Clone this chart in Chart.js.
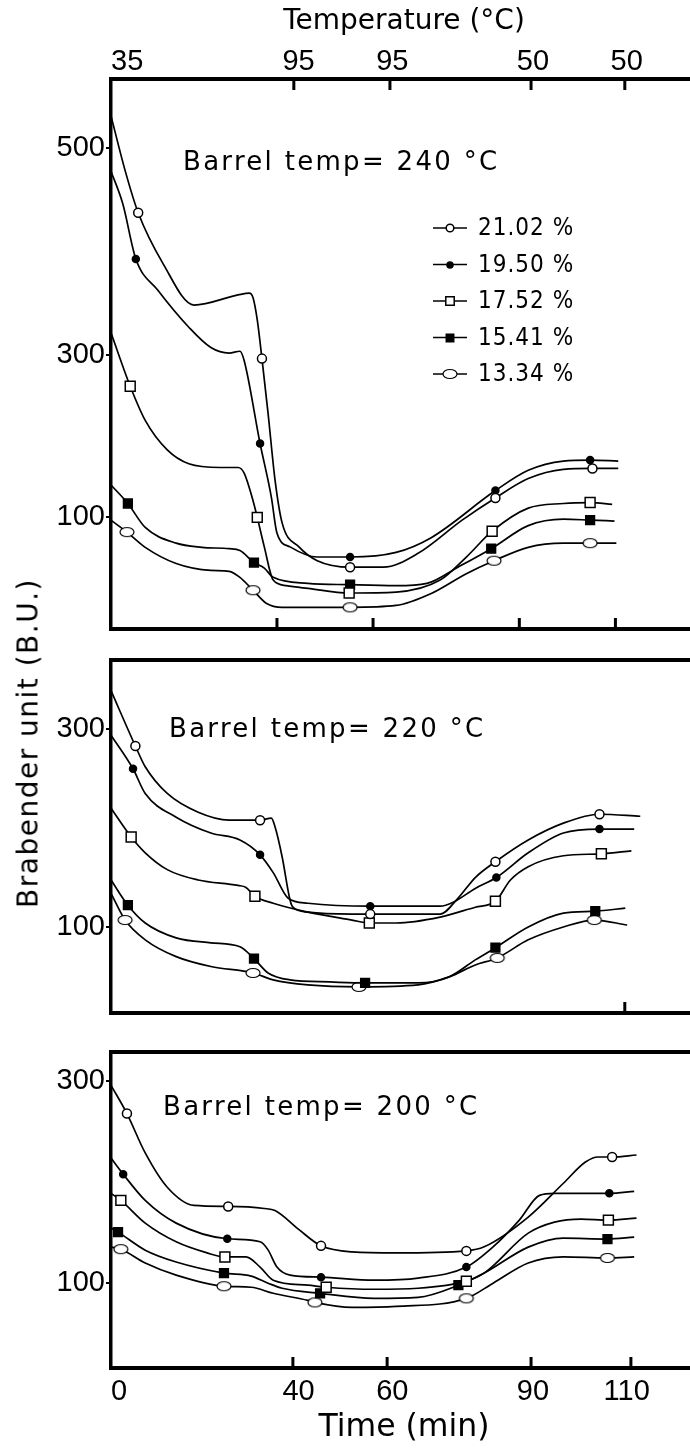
<!DOCTYPE html>
<html>
<head>
<meta charset="utf-8">
<script src="https://cdn.jsdelivr.net/npm/chart.js@4.4.1/dist/chart.umd.min.js"></script>
<style>
  html, body { margin: 0; padding: 0; background: #fff; width: 690px; height: 1452px; overflow: hidden; }
  .panel { position: absolute; left: 0; width: 700px; }
  #ytitle {
    position: absolute; left: 28px; top: 743px;
    transform: translate(-50%, -50%) rotate(-90deg);
    font: 28px "DejaVu Sans"; letter-spacing: 1.5px; white-space: nowrap; color: #000;
  }
</style>
</head>
<body>
<div class="panel" style="top:0;height:640px"><canvas id="c240" width="700" height="640"></canvas></div>
<div class="panel" style="top:640px;height:385px"><canvas id="c220" width="700" height="385"></canvas></div>
<div class="panel" style="top:1030px;height:422px"><canvas id="c200" width="700" height="422"></canvas></div>
<div id="ytitle">Brabender unit (B.U.)</div>

<script>
// moisture content of each curve
const seriesLabels = ["21.02 %", "19.50 %", "17.52 %", "15.41 %", "13.34 %"];

// axis labels
const timeTicks = [0, 40, 60, 90, 110];
const timeLabels = ["0", "40", "60", "90", "110"];
const tempLabels = ["35", "95", "95", "50", "50"];
// the 240 C panel's axis is drawn unevenly: its "300" sits lower than a straight scale would put it
const yTicks240 = [100, 276, 500];
const yTicksLow = [100, 300];
const yLabels240 = ["100", "300", "500"];
const yLabelsLow = ["100", "300"];

// ---- Barrel temp = 240 C : [time (min), B.U.] ----
const b240_2102 = [[0,535],[3,476],[5.8,430],[11.1,375],[17.7,330],[27.1,341],[29.5,343],[30.3,338],[31.2,314],[32.2,272],[33.5,213],[35,140],[36.5,94],[40.1,68],[44,53],[51,46],[58.1,46],[65.5,61],[74.9,97],[82,121],[89,142],[96.5,152],[102.7,153],[108.2,153]];
const b240_1950 = [[0,475],[2.5,440],[5.3,380],[10,346],[16.6,306],[21.3,284],[25.2,278],[27.5,280],[28.4,270],[31.8,180],[34.2,122],[35.4,83],[38.2,68],[44,57],[51,57],[60.8,62],[68.3,78],[82,129],[89,151],[96.5,161],[102.2,162],[108.2,161]];
const b240_1752 = [[0,300],[4.1,242],[7.3,205],[12,173],[16.6,158],[23.3,154],[27.1,154],[28.4,148],[30.3,118],[31.2,100],[32.7,68],[34.6,32],[37.4,26],[42,23],[50.8,18],[60.8,19],[70.2,32],[75.8,57],[81.3,85],[89,110],[96.5,115],[102.2,116],[106.9,114]];
const b240_1541 = [[0,135],[3.6,115],[7.3,89],[13.9,72],[19.4,67.5],[25.2,66],[27.5,64],[30.5,51],[32.7,45],[34.6,35],[42,28.5],[51,27],[60.8,26],[67.4,28.5],[74,46],[81.1,66],[89,91],[96.5,98],[102.2,97],[107.4,96]];
const b240_1334 = [[0,97],[3.4,84],[7.3,67.5],[13.9,50],[21.3,42.5],[25.2,41.5],[27.5,35],[30.3,21],[33.1,7],[36.5,2.5],[51,2.5],[60.8,4.5],[68.3,17.5],[75.8,39],[81.7,53],[89,67.5],[96.5,72],[102.2,72],[107.8,72]];
// times carrying a symbol
const m240_2102 = [5.8, 32.2, 51, 82, 102.7];
const m240_1950 = [5.3, 31.8, 51, 82, 102.2];
const m240_1752 = [4.1, 31.2, 50.8, 81.3, 102.2];
const m240_1541 = [3.6, 30.5, 51, 81.1, 102.2];
const m240_1334 = [3.4, 30.3, 51, 81.7, 102.2];

// ---- Barrel temp = 220 C ----
const b220_2102 = [[0,339],[5.2,283],[7.3,262],[12,235],[18.6,216],[25.2,208],[31.8,208],[34.2,210],[35,201],[36.5,171],[38.2,127],[38.8,120],[42,115],[51.4,113],[55.3,113],[70.2,113],[74,129],[77.7,150],[82,166],[89,188],[96.5,205],[104.2,214],[112.9,212]];
const b220_1950 = [[0,294],[4.7,260],[7.3,235],[13.9,211],[21.3,195],[27.5,188],[31.8,173],[34.6,155],[37.8,129],[42,124],[55.3,121],[70.2,121],[73,125],[77.7,139],[82.2,150],[89,175],[96.5,195],[104.2,199],[111.6,199]];
const b220_1752 = [[0,220],[4.3,191],[7.3,175],[12,158],[18.6,147.5],[27.1,142],[28.8,140],[30.7,131],[34.6,124],[42,115],[51.4,107],[55.1,104],[60.8,104],[70.2,110],[77.7,120],[82,126],[85.2,147.5],[89,161],[96.5,172],[104.6,174],[111,177]];
const b220_1541 = [[0,147.5],[3.6,122],[7.3,104],[13.9,89],[21.3,84],[27.5,80],[30.5,68],[33.5,53.5],[38.2,46.5],[46.7,44.4],[54.2,43.4],[65.5,43.4],[72.1,49.5],[77.7,66.7],[82,79],[89,100],[96.5,114],[103.3,116],[109.7,119]];
const b220_1334 = [[0,134],[3,107],[7.3,87],[13.9,70],[21.3,60],[30.3,53.5],[34.6,46.5],[42,41.4],[52.9,39.4],[65.5,41.4],[72.1,49.5],[77.7,61.6],[82.4,68.7],[89,87],[96.5,100],[103.1,107],[110.1,102]];
const m220_2102 = [5.2, 31.8, 55.3, 82, 104.2];
const m220_1950 = [4.7, 31.8, 55.3, 82.2, 104.2];
const m220_1752 = [4.3, 30.7, 55.1, 82, 104.6];
const m220_1541 = [3.6, 30.5, 54.2, 82, 103.3];
const m220_1334 = [3, 30.3, 52.9, 82.4, 103.1];

// ---- Barrel temp = 200 C ----
const b200_2102 = [[0,296],[3.4,268],[7.3,229],[12,195],[17.7,177],[25,176],[32.7,174],[35,172],[40.1,153],[44.8,137],[51.4,131],[60.8,130],[75.8,132],[79.6,136],[89,165.5],[96.5,199],[101.2,220],[103.9,225],[106.9,225],[112.1,227]];
const b200_1950 = [[0,224],[2.6,208],[7.3,182],[13.9,159.5],[24.8,144],[31.8,141],[33.5,133],[35.4,116],[38.2,108],[44.8,106],[56.1,103],[65.5,105],[75.8,116],[81.5,136],[87.1,162.5],[91.4,187],[94.6,189],[106.3,189],[111.6,191]];
const b200_1752 = [[0,189],[2.1,182],[7.3,159.5],[13.9,141],[20.5,130],[24.3,126],[28.8,126],[31.8,116],[34.6,103],[42,98],[45.9,96],[56.1,94],[65.5,95],[75.8,102],[79.6,110],[89,149.6],[94.6,160.5],[100.3,163.5],[106.1,162.5],[112.1,164.5]];
const b200_1541 = [[0,154.6],[1.5,150.6],[7.3,132.7],[13.9,121],[24.1,110],[29.9,107],[33.5,100],[36.5,95],[44.6,90],[56.1,85],[65.5,86],[74.1,98],[79.6,110],[89,135.7],[96.5,144.6],[105.9,143.7],[111.6,145.6]];
const b200_1334 = [[0,135.7],[2.1,133.7],[7.3,120],[13.9,108],[24.1,97],[29.9,96],[34.6,90],[42,83],[43.5,81],[51.4,76],[60.8,77],[75.8,85],[81.5,100],[89,120],[96.5,126],[105.9,125],[111.6,126]];
const m200_2102 = [3.4, 25, 44.8, 75.8, 106.9];
const m200_1950 = [2.6, 24.8, 44.8, 75.8, 106.3];
const m200_1752 = [2.1, 24.3, 45.9, 75.8, 106.1];
const m200_1541 = [1.5, 24.1, 44.6, 74.1, 105.9];
const m200_1334 = [2.1, 24.1, 43.5, 75.8, 105.9];

// small open ellipse used for the 13.34 % curve
function ellipseMark() {
  const c = document.createElement("canvas");
  c.width = 18; c.height = 12;
  const g = c.getContext("2d");
  g.beginPath();
  g.ellipse(9, 6, 7, 4.5, 0, 0, Math.PI * 2);
  g.fillStyle = "#fff"; g.fill();
  g.lineWidth = 1.2; g.strokeStyle = "#000"; g.stroke();
  return c;
}

const markerStyles = [
  { style: "circle", r: 4.5, bg: "#fff" },
  { style: "circle", r: 3.5, bg: "#000" },
  { style: "rect", r: 7, bg: "#fff" },
  { style: "rect", r: 6.2, bg: "#000" },
  { style: ellipseMark(), r: 5, bg: "#fff" }
];

Chart.defaults.color = "#000";
Chart.defaults.animation = false;

function serie(pairs, marks, i) {
  const st = markerStyles[i];
  return {
    label: seriesLabels[i],
    data: pairs.map(p => ({ x: p[0], y: p[1] })),
    borderColor: "#000",
    borderWidth: 1.7,
    cubicInterpolationMode: "monotone",
    fill: false,
    pointStyle: st.style,
    backgroundColor: st.bg,
    pointBackgroundColor: st.bg,
    pointBorderColor: "#000",
    pointBorderWidth: 1.5,
    pointRadius: c => (c.raw && marks.includes(c.raw.x) ? st.r : 0),
    pointHoverRadius: 0
  };
}

// inner tick marks, panel title and legend
const decor = {
  id: "decor",
  afterDraw(chart, args, o) {
    const { ctx, chartArea: a, scales } = chart;
    ctx.save();
    ctx.strokeStyle = "#000";
    ctx.lineWidth = 3;
    (o.topTicks || []).forEach(v => {
      const x = scales.x.getPixelForValue(v);
      ctx.beginPath(); ctx.moveTo(x, a.top); ctx.lineTo(x, a.top + 11); ctx.stroke();
    });
    (o.bottomTicks || []).forEach(v => {
      const x = scales.x.getPixelForValue(v);
      ctx.beginPath(); ctx.moveTo(x, a.bottom); ctx.lineTo(x, a.bottom - 11); ctx.stroke();
    });

    if (o.title) {
      ctx.fillStyle = "#000";
      ctx.font = '26px "DejaVu Sans"';
      ctx.letterSpacing = "2.3px";
      ctx.textBaseline = "middle";
      ctx.textAlign = "left";
      ctx.fillText(o.title, o.titleX, o.titleY);
    }

    if (o.legend) {
      const L = o.legend;
      ctx.font = '24px "Liberation Sans Narrow", "DejaVu Sans Condensed", sans-serif';
      ctx.letterSpacing = "1px";
      ctx.textBaseline = "middle";
      seriesLabels.forEach((lab, i) => {
        const y = L.y + i * L.step;
        const st = markerStyles[i];
        ctx.lineWidth = 1.7;
        ctx.strokeStyle = "#000";
        ctx.beginPath(); ctx.moveTo(L.x - 17, y); ctx.lineTo(L.x + 17, y); ctx.stroke();
        ctx.fillStyle = st.bg;
        ctx.lineWidth = 1.5;
        Chart.helpers.drawPoint(ctx, { pointStyle: st.style, radius: st.r * 0.85, rotation: 0, borderWidth: 1.5 }, Math.round(L.x), Math.round(y));
        ctx.fillStyle = "#000";
        ctx.fillText(lab, L.x + 28, y + 1);
      });
    }
    ctx.restore();
  }
};

function panel(id, sets, opt) {
  const tickFont = { family: "Liberation Sans", size: 29 };
  new Chart(document.getElementById(id), {
    type: "line",
    data: { datasets: sets },
    plugins: [decor],
    options: {
      responsive: false,
      devicePixelRatio: 1,
      layout: { padding: { right: 3 }, autoPadding: false },
      plugins: {
        legend: { display: false },
        tooltip: { enabled: false },
        decor: opt.decor
      },
      scales: {
        x: {
          type: "linear", position: "bottom", min: 0, max: 125,
          afterBuildTicks: s => { s.ticks = timeTicks.concat([125]).map(v => ({ value: v })); },
          ticks: {
            display: !!opt.timeLabels, font: tickFont, padding: 7, align: "inner",
            maxRotation: 0, autoSkip: false,
            callback: (v, i) => (i < timeLabels.length ? timeLabels[i] : "")
          },
          grid: { display: false, drawTicks: false },
          border: { display: true, width: 4, color: "#000" },
          title: {
            display: !!opt.timeLabels, text: "Time (min)",
            font: { family: "DejaVu Sans", size: 31.5 }, padding: { top: 0, bottom: 5 }
          },
          afterFit: s => { s.height = opt.bottomH; s.paddingLeft = 0; s.paddingRight = 0; }
        },
        xTop: {
          type: "linear", position: "top", min: 0, max: 125,
          afterBuildTicks: s => { s.ticks = timeTicks.concat([125]).map(v => ({ value: v })); },
          ticks: {
            display: !!opt.tempLabels, font: tickFont, padding: 0, align: "inner",
            maxRotation: 0, autoSkip: false,
            callback: (v, i) => (i < tempLabels.length ? tempLabels[i] : "")
          },
          grid: { display: false, drawTicks: false },
          border: { display: true, width: 4, color: "#000" },
          title: {
            display: !!opt.tempLabels, text: "Temperature (°C)",
            font: { family: "DejaVu Sans", size: 28 }, padding: { top: 5, bottom: 0 }
          },
          afterFit: s => { s.height = opt.topH; s.paddingLeft = 0; s.paddingRight = 0; }
        },
        y: {
          type: "linear", position: "left", min: opt.yMin, max: opt.yMax,
          afterBuildTicks: s => { s.ticks = opt.yTicks.map(v => ({ value: v })); },
          ticks: { font: tickFont, padding: 1, autoSkip: false, callback: (v, i) => opt.yLabels[i] },
          grid: { display: true, drawOnChartArea: false, drawTicks: true, tickLength: 5, color: "#000", lineWidth: 2 },
          border: { display: true, width: 3.5, color: "#000" },
          afterFit: s => { s.width = 111; s.paddingTop = 0; s.paddingBottom = 0; }
        }
      }
    }
  });
}

panel("c240", [
  serie(b240_2102, m240_2102, 0),
  serie(b240_1950, m240_1950, 1),
  serie(b240_1752, m240_1752, 2),
  serie(b240_1541, m240_1541, 3),
  serie(b240_1334, m240_1334, 4)
], {
  yMin: -21, yMax: 575, yTicks: yTicks240, yLabels: yLabels240, topH: 79, bottomH: 11,
  tempLabels: true,
  decor: {
    topTicks: [39, 59.5, 89.6, 109.6], bottomTicks: [35.4, 55.9, 87.1, 107.6],
    title: "Barrel temp= 240 °C", titleX: 183, titleY: 163,
    legend: { x: 450, y: 228, step: 36.5 }
  }
});

panel("c220", [
  serie(b220_2102, m220_2102, 0),
  serie(b220_1950, m220_1950, 1),
  serie(b220_1752, m220_1752, 2),
  serie(b220_1541, m220_1541, 3),
  serie(b220_1334, m220_1334, 4)
], {
  yMin: 13, yMax: 370, yTicks: yTicksLow, yLabels: yLabelsLow, topH: 20, bottomH: 12,
  decor: {
    bottomTicks: [109.6],
    title: "Barrel temp= 220 °C", titleX: 169, titleY: 90
  }
});

panel("c200", [
  serie(b200_2102, m200_2102, 0),
  serie(b200_1950, m200_1950, 1),
  serie(b200_1752, m200_1752, 2),
  serie(b200_1541, m200_1541, 3),
  serie(b200_1334, m200_1334, 4)
], {
  yMin: 16, yMax: 329, yTicks: yTicksLow, yLabels: yLabelsLow, topH: 22, bottomH: 84,
  timeLabels: true,
  decor: {
    bottomTicks: [38.8, 58.9, 89.6, 110.9],
    title: "Barrel temp= 200 °C", titleX: 163, titleY: 78
  }
});
</script>
</body>
</html>
